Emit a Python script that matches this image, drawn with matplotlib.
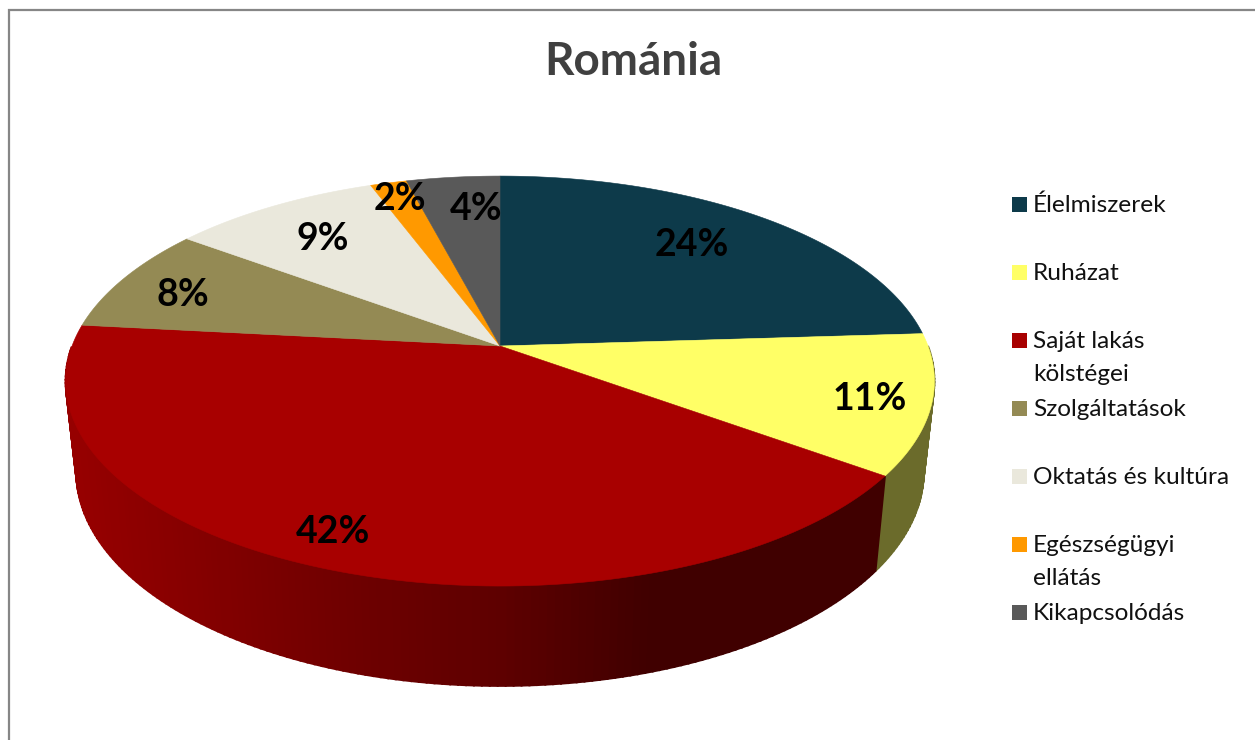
import numpy as np
import matplotlib
matplotlib.use("Agg")
import matplotlib.pyplot as plt
from matplotlib.patches import Rectangle

# Data
title = "Románia"
categories = ["Élelmiszerek", "Ruházat", "Saját lakás\nkölstégei", "Szolgáltatások",
              "Oktatás és kultúra", "Egészségügyi\nellátás", "Kikapcsolódás"]
values = [24.0, 11.0, 41.7, 8.4, 9.2, 1.6, 4.1]
colors = ["#0D3A4A", "#FFFF66", "#A80000", "#948A54", "#EAE8DC", "#FF9900", "#595959"]

# Layout in pixels
CX = 500
K = 0.171            # perspective strength
TOP = dict(a=428.0, b=199.0, y0=346.0)
BOTTOM = dict(a=417.5, b=208.0, y0=435.0)
label_centers = [(692, 245), (870, 399), (333, 532), (183, 295), (323, 239), (400, 199), (476, 209)]
legend_rows = [204, 272, 340, 408, 476, 544, 612]


def project(theta, plane, r=1.0):
    """Point of the disc (clockwise from the top) to pixels, with perspective"""
    u, v = r * np.sin(theta), r * np.cos(theta)
    w = 1 + K * v
    return CX + plane["a"] * u / w, plane["y0"] - plane["b"] * v / w


def shade(slice_idx, x):
    """Darker side wall towards the right, flat for the non gradient slices"""
    base = np.array(matplotlib.colors.to_rgb(colors[slice_idx]))
    if slice_idx == 2:
        f = np.interp(x, [80, 350, 500, 650, 900], [0.89, 0.66, 0.56, 0.38, 0.38])
    else:
        f = 0.42
    return tuple(base * f)


fig = plt.figure(figsize=(12.55, 7.40), dpi=100)
ax = fig.add_axes([0, 0, 1, 1])
ax.set_xlim(0, 1255)
ax.set_ylim(740, 0)
ax.axis("off")
plt.rcParams["font.family"] = ["Lato", "DejaVu Sans"]

# Frame of the chart, open on the right and bottom
ax.plot([9, 9, 1255], [740, 10, 10], color="#868686", lw=1.6, solid_joinstyle="miter")

edges = np.cumsum([0] + values) / sum(values) * 2 * np.pi

# Side wall, only the front half, back to front so the nearest quads end on top
quads = []
for i in range(len(values)):
    t = np.linspace(edges[i], edges[i + 1], max(2, int(values[i] * 4) + 1))
    for t0, t1 in zip(t[:-1], t[1:]):
        if np.cos((t0 + t1) / 2) < 0:
            quads.append((i, t0, t1))
quads.sort(key=lambda q: -np.cos((q[1] + q[2]) / 2))
for i, t0, t1 in quads:
    x0, y0 = project(t0, TOP)
    x1, y1 = project(t1, TOP)
    x2, y2 = project(t1, BOTTOM)
    x3, y3 = project(t0, BOTTOM)
    c = shade(i, (x0 + x1) / 2)
    ax.fill([x0, x1, x2, x3], [y0, y1, y2, y3], color=c, lw=1.4)

# Top face
for i in range(len(values)):
    t = np.linspace(edges[i], edges[i + 1], 120)
    xs, ys = project(t, TOP)
    cx0, cy0 = project(0.0, TOP, r=0.0)
    ax.fill(np.r_[cx0, xs], np.r_[cy0, ys], color=colors[i], lw=0.4)

# Percent labels
for v, (lx, ly) in zip(values, label_centers):
    ax.text(lx, ly, f"{v:.0f}%", fontsize=27, fontweight="bold", color="black", ha="center", va="center")

ax.text(633, 75, title, fontsize=33, fontweight="bold", color="#404040", ha="center", va="baseline")

# Legend
for name, col, row in zip(categories, colors, legend_rows):
    ax.add_patch(Rectangle((1012, row - 7.5), 15, 15, facecolor=col, edgecolor="none"))
    for n, line in enumerate(name.split("\n")):
        ax.text(1033, row + 8 + 33 * n, line, fontsize=17.6, color="#111111", ha="left", va="baseline")

fig.savefig("out.png", dpi=100, facecolor="white")
